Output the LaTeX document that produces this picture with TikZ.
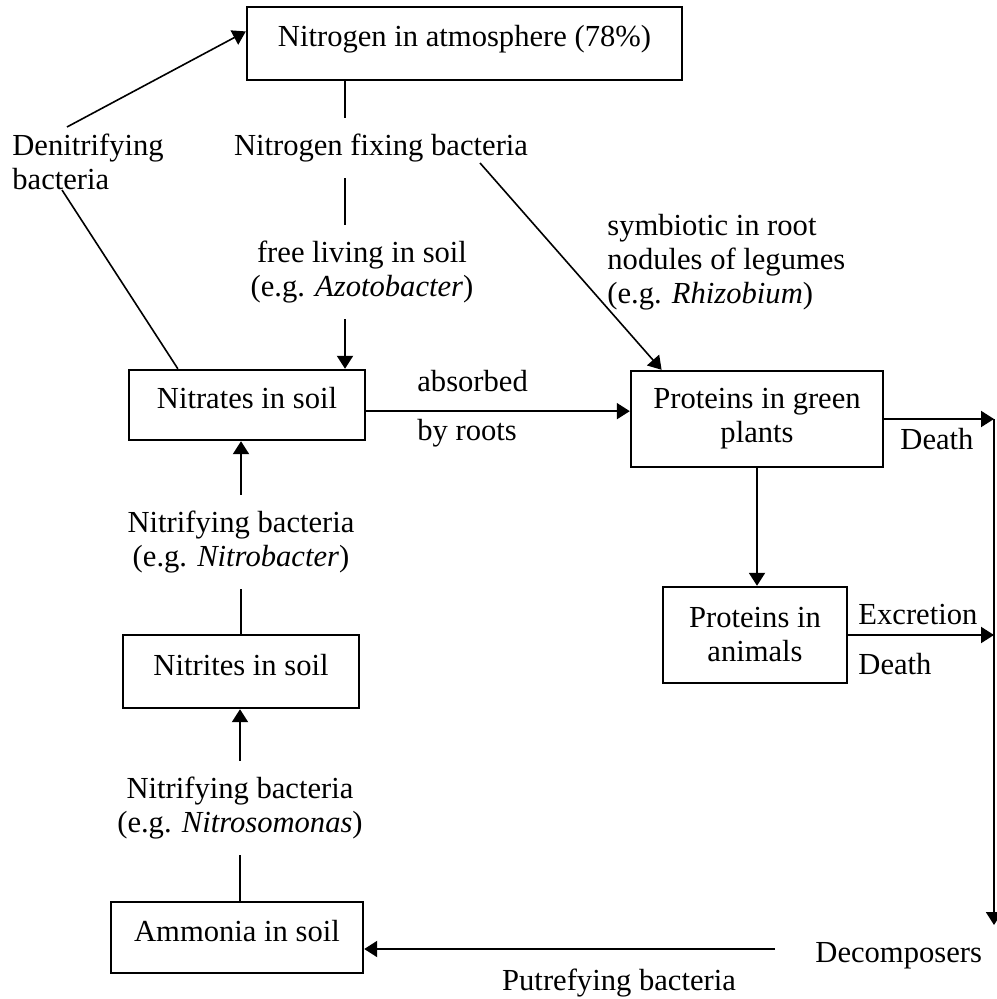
\documentclass[tikz,border=0pt]{standalone}
\usepackage{fontspec}
\setmainfont{Liberation Serif}
\usetikzlibrary{arrows.meta,calc}
\begin{document}
\begin{tikzpicture}[x=0.5pt,y=-0.5pt,
  font=\fontsize{15.3}{17}\selectfont,
  box/.style={draw,line width=1.2pt,inner sep=0pt,align=center},
  onebox/.style={box,text height=10.5pt,text depth=7pt},
  lbl/.style={inner xsep=1pt,inner ysep=8pt,align=center},
  tag/.style={inner sep=0pt,anchor=west,align=left},
  link/.style={line width=1pt},
  thin link/.style={line width=0.8pt},
  arr/.style={link,-{Triangle[length=6.5pt,width=8pt]}},
]
\useasboundingbox (0,0) rectangle (996,999);

% pools of nitrogen
\node[onebox,minimum width=217.5pt,minimum height=36.5pt] (top) at (464.5,43.5) {Nitrogen in atmosphere (78\%)};
\node[onebox,minimum width=118pt,minimum height=35pt] (nitrates) at (247,405) {Nitrates in soil};
\node[box,minimum width=126pt,minimum height=48pt] (plants) at (757,419) {Proteins in green\\plants};
\node[box,minimum width=92pt,minimum height=48pt] (animals) at (755,635) {Proteins in\\animals};
\node[onebox,minimum width=118pt,minimum height=36.5pt] (nitrites) at (241,671.5) {Nitrites in soil};
\node[onebox,minimum width=126pt,minimum height=35.5pt] (ammonia) at (237,937.5) {Ammonia in soil};

% process labels
\node[lbl] (fix) at (381,148) {Nitrogen fixing bacteria};
\node[lbl] (free) at (362,272) {free living in soil\\(e.g. \textit{Azotobacter})};
\node[lbl] (nitrobac) at (241,542) {Nitrifying bacteria\\(e.g. \textit{Nitrobacter})};
\node[lbl] (nitroso) at (240,808) {Nitrifying bacteria\\(e.g. \textit{Nitrosomonas})};
\node[tag] (denit) at (12,162) {Denitrifying\\bacteria};
\node[tag] (symb) at (607,262) {symbiotic in root\\nodules of legumes\\(e.g. \textit{Rhizobium})};
\node[tag] (absorbed) at (417,381) {absorbed};
\node[tag] (byroots) at (417,433) {by roots};
\node[tag] (death1) at (900,439.5) {Death};
\node[tag] (excr) at (858,614.5) {Excretion};
\node[tag] (death2) at (858,664) {Death};
\node[tag] (decomp) at (815,956) {Decomposers};
\node[inner sep=0pt] (putref) at (619,983) {Putrefying bacteria};

% helper points for connector ends
\coordinate (fixcol) at (345,0);
\coordinate (dnfoot) at ($(nitrates.north west)!0.21!(nitrates.north east)$);
\coordinate (dnlow) at (62,190);
\coordinate (dnhigh) at (67,127);
\coordinate (dntip) at ($(top.north west)!0.34!(top.south west)$);
\coordinate (symstart) at (480,163);
\coordinate (symtip) at ($(plants.north west)!0.125!(plants.north east)$);
\coordinate (absA) at ($(nitrates.north east)!0.585!(nitrates.south east)$);
\coordinate (rtop) at (994,419);
\coordinate (rbot) at (994,925);
\coordinate (putA) at (775,949);

% nitrogen fixation
\draw[link] (top.south -| fixcol) -- (fix.north -| fixcol);
\draw[link] (fix.south -| fixcol) -- (free.north -| fixcol);
\draw[arr] (free.south -| fixcol) -- (nitrates.north -| fixcol);
\draw[thin link,-{Triangle[length=6.5pt,width=8pt]}] (symstart) -- (symtip);

% denitrification
\draw[thin link] (dnfoot) -- (dnlow);
\draw[thin link,-{Triangle[length=6.5pt,width=8pt]}] (dnhigh) -- (dntip);

% uptake and food chain
\draw[arr] (absA) -- (absA -| plants.west);
\draw[arr] (plants.south) -- (plants.south |- animals.north);

% decay
\draw[arr] (plants.east) -- (rtop);
\draw[arr] (animals.east) -- (animals.east -| rtop);
\draw[arr] (rtop) -- (rbot);
\draw[arr] (putA) -- (putA -| ammonia.east);

% nitrification
\draw[arr] (nitrobac.north) -- (nitrobac.north |- nitrates.south);
\draw[link] (nitrobac.south) -- (nitrobac.south |- nitrites.north);
\draw[arr] (nitroso.north) -- (nitroso.north |- nitrites.south);
\draw[link] (nitroso.south) -- (nitroso.south |- ammonia.north);
\end{tikzpicture}
\end{document}
